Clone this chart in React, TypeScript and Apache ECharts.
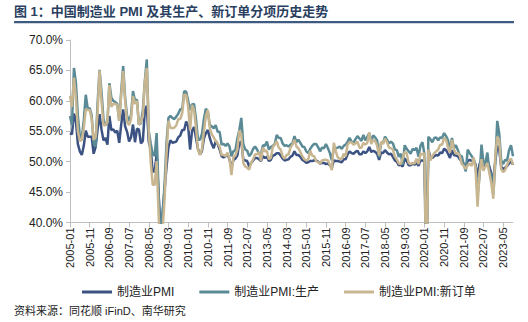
import React, { useEffect, useRef } from "react";
import * as echarts from "echarts";

const START_YEAR = 2005;
const MONTH_COUNT = 226;

const pmi: number[] = [
  54.7, 54.5, 57.9, 56.7, 52.9, 51.7, 51.1, 52.6, 55.1, 54.1, 54.1, 54.1,
  51.3, 52.4, 55.3, 57.8, 55.3, 53.5, 53.9, 52.8, 57.5, 55.2, 55.3, 54.8,
  55.1, 53.1, 56.1, 58.6, 55.8, 54.9, 53.3, 54.0, 56.1, 53.2, 55.4, 55.3,
  53.0, 53.4, 58.4, 59.2, 53.3, 52.0, 48.4, 48.4, 51.2, 44.6, 38.8, 41.2,
  45.3, 49.0, 52.4, 53.5, 53.1, 53.2, 53.3, 54.0, 54.3, 55.2, 55.2, 56.6,
  55.8, 52.0, 55.1, 55.7, 53.9, 52.1, 51.2, 51.7, 53.8, 54.7, 55.2, 53.9,
  52.9, 52.2, 53.4, 52.9, 52.0, 50.9, 50.7, 50.9, 51.2, 50.4, 49.0, 50.3,
  50.5, 51.0, 53.1, 53.3, 50.4, 50.2, 50.1, 49.2, 49.8, 50.2, 50.6, 50.6,
  50.4, 50.1, 50.9, 50.6, 50.8, 50.1, 50.3, 51.0, 51.1, 51.4, 51.4, 51.0,
  50.5, 50.2, 50.3, 50.4, 50.8, 51.0, 51.7, 51.1, 51.1, 50.8, 50.3, 50.1,
  49.8, 49.9, 50.1, 50.1, 50.2, 50.2, 50.0, 49.7, 49.8, 49.8, 49.6, 49.7,
  49.4, 49.0, 50.2, 50.1, 50.1, 50.0, 49.9, 50.4, 50.4, 51.2, 51.7, 51.4,
  51.3, 51.6, 51.8, 51.2, 51.2, 51.7, 51.4, 51.7, 52.4, 51.6, 51.8, 51.6,
  51.3, 50.3, 51.5, 51.4, 51.9, 51.5, 51.2, 51.3, 50.8, 50.2, 50.0, 49.4,
  49.5, 49.2, 50.5, 50.1, 49.4, 49.4, 49.7, 49.5, 49.8, 49.3, 50.2, 50.2,
  50.0, 35.7, 52.0, 50.8, 50.6, 50.9, 51.1, 51.0, 51.5, 51.4, 52.1, 51.9,
  51.3, 50.6, 51.9, 51.1, 51.0, 50.9, 50.4, 50.1, 49.6, 49.2, 50.1, 50.3,
  50.1, 50.2, 49.5, 47.4, 49.6, 50.2, 49.0, 49.4, 50.1, 49.2, 48.0, 47.0,
  50.1, 52.6, 51.9, 49.2, 48.8, 49.0, 49.3, 49.7, 50.2, 49.5,
];

const production: number[] = [
  57.5, 56.0, 65.4, 63.0, 57.5, 54.2, 54.0, 56.8, 61.0, 58.7, 58.8, 57.6,
  53.0, 52.5, 59.5, 65.1, 61.5, 57.0, 56.0, 56.3, 62.9, 60.5, 60.0, 59.8,
  59.5, 56.7, 61.5, 65.7, 60.5, 57.5, 56.7, 57.7, 61.6, 60.0, 60.2, 56.1,
  56.3, 58.5, 63.2, 66.8, 55.0, 53.0, 51.2, 51.0, 54.7, 44.9, 36.8, 41.5,
  46.0, 53.0, 57.2, 57.5, 57.2, 57.0, 57.4, 57.9, 58.6, 58.6, 61.6, 61.5,
  60.0, 58.5, 59.4, 59.5, 57.0, 53.6, 53.6, 54.5, 57.0, 58.7, 58.2, 56.0,
  55.8, 55.5, 56.0, 54.9, 54.9, 52.8, 52.9, 52.6, 53.0, 52.5, 50.9, 51.7,
  51.9, 53.8, 55.2, 57.2, 52.9, 52.0, 51.8, 50.9, 51.3, 52.1, 52.5, 52.0,
  51.3, 51.2, 52.7, 52.6, 53.3, 52.0, 52.4, 52.6, 52.9, 54.4, 53.9, 53.9,
  53.0, 52.6, 52.7, 52.5, 52.8, 53.0, 54.2, 53.2, 53.6, 53.1, 52.5, 52.4,
  51.7, 51.4, 52.1, 52.6, 52.9, 52.9, 52.4, 51.7, 52.3, 52.2, 52.9, 52.2,
  51.4, 50.2, 52.3, 52.2, 52.3, 52.5, 52.1, 52.6, 52.8, 53.3, 53.9, 53.3,
  53.1, 53.7, 54.2, 53.8, 53.4, 54.4, 53.5, 54.1, 54.7, 53.4, 54.3, 54.0,
  53.5, 50.7, 53.1, 53.1, 54.1, 53.6, 53.0, 53.3, 53.0, 52.0, 51.9, 50.8,
  51.3, 49.5, 52.7, 52.1, 51.7, 51.3, 52.1, 51.9, 52.3, 50.8, 52.6, 53.2,
  51.3, 27.8, 54.1, 53.7, 53.2, 53.9, 54.0, 53.5, 54.0, 53.9, 54.7, 54.2,
  53.5, 51.9, 53.9, 52.2, 52.7, 51.9, 51.0, 50.9, 49.5, 48.4, 52.0, 51.4,
  50.9, 50.4, 49.5, 44.4, 47.7, 52.8, 49.8, 49.8, 51.5, 48.4, 47.8, 44.6,
  49.8, 56.7, 54.6, 50.2, 49.6, 50.3, 50.2, 51.9, 52.7, 50.9,
];

const newOrders: number[] = [
  60.8, 59.0, 63.8, 60.5, 55.0, 53.4, 53.6, 55.5, 58.6, 58.5, 58.5, 57.0,
  53.6, 54.0, 58.0, 65.0, 60.0, 56.0, 56.0, 56.5, 62.6, 59.0, 59.5, 59.5,
  59.3, 56.7, 61.0, 64.9, 60.0, 56.5, 56.0, 57.0, 60.8, 59.5, 60.0, 56.1,
  56.5, 57.5, 63.2, 65.4, 55.0, 50.0, 46.2, 46.2, 50.1, 41.5, 32.3, 38.6,
  43.6, 51.2, 56.7, 55.6, 55.5, 55.6, 56.0, 57.0, 57.0, 58.0, 61.0, 61.0,
  59.0, 55.2, 59.3, 58.5, 55.5, 52.0, 51.1, 52.0, 55.0, 57.5, 58.5, 55.5,
  54.5, 54.0, 53.4, 53.0, 52.5, 51.1, 51.1, 50.9, 51.5, 50.5, 47.8, 50.8,
  51.0, 52.0, 55.1, 54.5, 49.8, 49.2, 49.0, 48.7, 49.8, 50.4, 51.2, 51.2,
  51.6, 50.1, 52.3, 51.7, 51.8, 50.4, 50.6, 52.4, 52.8, 53.4, 52.3, 52.0,
  50.9, 50.5, 51.1, 51.2, 52.3, 52.8, 53.6, 52.5, 52.2, 51.6, 50.9, 50.4,
  50.2, 50.4, 51.8, 51.0, 50.9, 50.1, 49.9, 49.7, 50.2, 50.3, 50.3, 50.2,
  49.5, 48.6, 53.1, 51.7, 50.7, 50.5, 50.4, 51.3, 50.9, 52.8, 53.2, 53.2,
  52.8, 53.0, 53.3, 52.3, 52.3, 53.1, 52.8, 53.1, 54.8, 52.9, 53.6, 53.4,
  52.6, 51.0, 53.3, 52.9, 53.8, 53.2, 52.3, 52.2, 52.0, 50.8, 50.4, 49.7,
  49.6, 50.6, 51.6, 51.4, 49.8, 49.6, 49.8, 49.7, 50.5, 49.6, 51.3, 51.2,
  51.4, 29.3, 52.0, 50.2, 50.9, 51.4, 51.7, 52.0, 52.8, 52.8, 53.9, 53.6,
  52.3, 51.5, 53.6, 52.0, 51.3, 51.5, 50.9, 49.6, 49.3, 48.8, 49.4, 49.7,
  49.3, 50.7, 48.8, 42.6, 48.2, 50.4, 48.5, 49.2, 49.8, 48.1, 46.4, 43.9,
  50.9, 54.1, 53.6, 48.8, 48.3, 48.6, 49.5, 50.2, 50.5, 49.5,
];

const seriesNames = ["制造业PMI", "制造业PMI:生产", "制造业PMI:新订单"];
const seriesColors = ["#3B5283", "#5A8A95", "#C8B690"];

const months: string[] = [];
for (let i = 0; i < MONTH_COUNT; i++) {
  const y = START_YEAR + Math.floor(i / 12);
  const m = (i % 12) + 1;
  months.push(`${y}-${m < 10 ? "0" + m : m}`);
}

const FONT = '"Liberation Sans", Arial, "Noto Sans CJK SC", sans-serif';

export default function App() {
  const ref = useRef<HTMLDivElement>(null);
  useEffect(() => {
    if (!ref.current) return;
    const chart = echarts.init(ref.current, undefined, { renderer: "svg" });
    const data = [pmi, production, newOrders];
    chart.setOption({
      animation: false,
      backgroundColor: "#ffffff",
      textStyle: { fontFamily: FONT },
      graphic: [
        {
          type: "text",
          left: 14,
          top: 5,
          style: {
            text: "图 1：中国制造业 PMI 及其生产、新订单分项历史走势",
            fill: "#2A3F5F",
            font: `bold 13px ${FONT}`,
          },
        },
        {
          type: "rect",
          shape: { x: 14, y: 21, width: 500, height: 2.2 },
          style: { fill: "#3D5A80" },
        },
        {
          type: "text",
          left: 14,
          top: 305,
          style: {
            text: "资料来源：同花顺 iFinD、南华研究",
            fill: "#222",
            font: `11px ${FONT}`,
          },
        },
      ],
      legend: {
        left: 77,
        top: 281,
        itemGap: 25,
        itemWidth: 30,
        itemHeight: 3,
        icon: "rect",
        textStyle: { fontSize: 12, color: "#222", fontFamily: FONT },
        data: seriesNames,
      },
      grid: { left: 70, right: 15, top: 40, bottom: 99.5, containLabel: false },
      xAxis: {
        type: "category",
        data: months,
        boundaryGap: false,
        axisLine: { lineStyle: { color: "#BFBFBF" } },
        axisTick: { interval: 9, length: 5, lineStyle: { color: "#BFBFBF" } },
        axisLabel: {
          interval: 9,
          rotate: 90,
          fontSize: 11,
          color: "#222",
          margin: 5,
          fontFamily: FONT,
        },
      },
      yAxis: {
        type: "value",
        min: 40,
        max: 70,
        interval: 5,
        splitLine: { show: false },
        axisLine: { show: true, lineStyle: { color: "#BFBFBF" } },
        axisTick: { show: true, length: 4, lineStyle: { color: "#BFBFBF" } },
        axisLabel: {
          fontSize: 12,
          color: "#222",
          margin: 7,
          fontFamily: FONT,
          formatter: (v: number) => v.toFixed(1) + "%",
        },
      },
      series: seriesNames.map((name, k) => ({
        name,
        type: "line",
        data: data[k],
        showSymbol: false,
        symbol: "none",
        clip: true,
        lineStyle: { width: 2.5, color: seriesColors[k] },
        itemStyle: { color: seriesColors[k] },
      })),
    });
    return () => chart.dispose();
  }, []);
  return (
    <div
      ref={ref}
      style={{ position: "fixed", left: 0, top: 0, width: 528, height: 322 }}
    />
  );
}
